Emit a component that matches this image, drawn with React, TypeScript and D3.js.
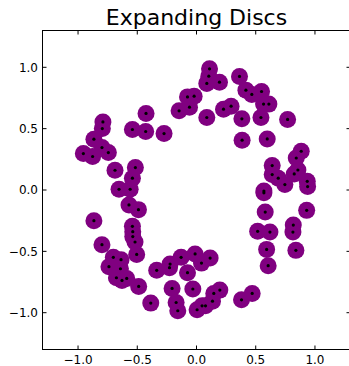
import React from "react";
import * as d3 from "d3";

const xs = [-0.790,-0.795,-0.426,-0.541,-0.429,-0.274,-0.866,-0.798,-0.744,-0.955,-0.877,-0.688,-0.516,-0.541,-0.654,-0.560,-0.147,-0.059,-0.076,-0.020,0.110,0.104,0.087,0.194,0.363,0.417,0.467,0.549,0.566,0.611,0.087,0.228,0.292,0.383,0.544,0.769,0.385,0.597,0.884,0.842,0.639,0.856,0.825,0.639,0.690,0.746,0.935,0.938,-0.570,-0.490,-0.866,-0.541,-0.538,-0.538,-0.519,-0.798,-0.505,-0.702,-0.637,-0.739,-0.642,-0.676,-0.629,-0.589,-0.488,-0.336,-0.223,-0.228,-0.130,-0.012,-0.076,-0.206,-0.031,-0.386,-0.172,-0.158,0.005,0.569,0.569,0.580,0.930,0.817,0.814,0.516,0.620,0.592,0.839,0.605,0.042,0.115,0.146,0.197,0.135,0.047,0.076,0.380,0.470];
const ys = [0.555,0.501,0.624,0.493,0.477,0.460,0.414,0.346,0.305,0.297,0.273,0.161,0.183,0.096,0.006,0.006,0.645,0.675,0.759,0.765,0.988,0.928,0.869,0.879,0.926,0.814,0.779,0.803,0.700,0.700,0.591,0.659,0.683,0.580,0.591,0.575,0.406,0.416,0.316,0.261,0.199,0.163,0.131,0.126,0.096,0.044,0.071,0.028,-0.122,-0.160,-0.250,-0.296,-0.340,-0.380,-0.424,-0.446,-0.525,-0.549,-0.568,-0.625,-0.642,-0.715,-0.737,-0.721,-0.786,-0.655,-0.604,-0.633,-0.549,-0.521,-0.674,-0.802,-0.807,-0.922,-0.917,-0.984,-0.976,-0.008,-0.023,-0.180,-0.166,-0.286,-0.343,-0.337,-0.343,-0.484,-0.492,-0.617,-0.596,-0.555,-0.843,-0.816,-0.906,-0.944,-0.944,-0.895,-0.843];
const tickVals = [-1.0, -0.5, 0.0, 0.5, 1.0];
const title = "Expanding Discs";

const W = 349, H = 366;
const L = 42.5, R = 350.5, T = 30.5, B = 349.5;

export default function App() {
  const x = d3.scaleLinear().domain([-1.3, 1.3]).range([L, R]);
  const y = d3.scaleLinear().domain([-1.3, 1.3]).range([B, T]);
  const fmt = (v: number) => d3.format(".1f")(v).replace("-", "\u2212");
  const font = "'DejaVu Sans', sans-serif";
  return (
    <svg width={W} height={H} style={{ position: "absolute", left: 0, top: 0 }} fontFamily={font}>
      <rect x={0} y={0} width={W} height={H} fill="white" />
      <text x={(L + R) / 2} y={25} textAnchor="middle" fontSize={22}>{title}</text>
      <g>
        {xs.map((v, i) => (
          <circle key={"c" + i} cx={x(v)} cy={y(ys[i])} r={8.5} fill="#800080" />
        ))}
        {xs.map((v, i) => (
          <circle key={"d" + i} cx={x(v)} cy={y(ys[i])} r={1.6} fill="black" />
        ))}
      </g>
      <rect x={L} y={T} width={R - L} height={B - T} fill="none" stroke="black" strokeWidth={1} />
      {tickVals.map((t) => (
        <g key={"x" + t}>
          <line x1={x(t)} x2={x(t)} y1={B} y2={B - 4} stroke="black" />
          <line x1={x(t)} x2={x(t)} y1={T} y2={T + 4} stroke="black" />
          <text x={x(t)} y={364} textAnchor="middle" fontSize={12}>{fmt(t)}</text>
        </g>
      ))}
      {tickVals.map((t) => (
        <g key={"y" + t}>
          <line x1={L} x2={L + 4} y1={y(t)} y2={y(t)} stroke="black" />
          <line x1={R} x2={R - 4} y1={y(t)} y2={y(t)} stroke="black" />
          <text x={38} y={y(t) + 4.3} textAnchor="end" fontSize={12}>{fmt(t)}</text>
        </g>
      ))}
    </svg>
  );
}
